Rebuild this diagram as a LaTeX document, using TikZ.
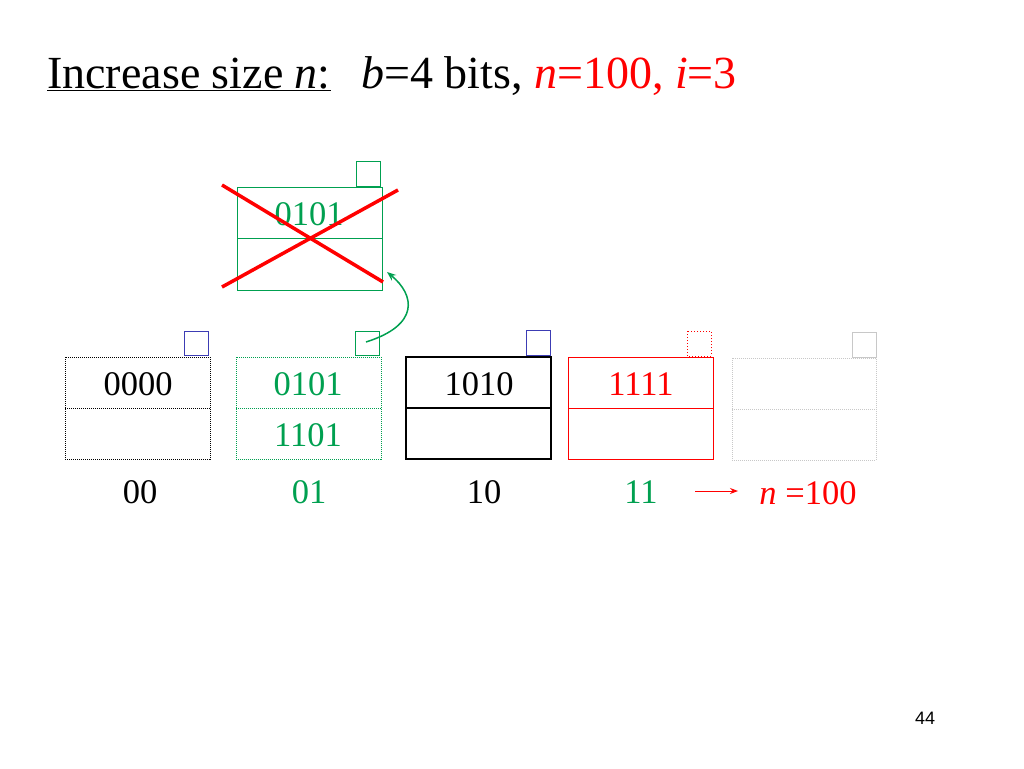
\documentclass[tikz,border=0pt]{standalone}
\usepackage{fontspec}
\setmainfont{Liberation Serif}
\newfontfamily\sansf{Liberation Sans}
\usetikzlibrary{arrows.meta}
\begin{document}
\begin{tikzpicture}[x=1pt,y=-1pt,
  bk/.style={line width=1pt},
  lbl/.style={font=\fontsize{34.5}{38}\selectfont,inner sep=0pt},
  sq/.style={line width=1pt}]
\definecolor{gr}{RGB}{0,160,80}
\definecolor{bl}{RGB}{60,60,180}
\definecolor{lg}{RGB}{200,200,200}
\useasboundingbox (0,0) rectangle (1024,768);
\node[anchor=base west,inner sep=0pt,font=\fontsize{46}{50}\selectfont] (title) at (47,88)
 {\underline{Increase size \textit{n}:}\ \ \,\textit{b}=4 bits, \textcolor{red}{\textit{n}=100, \textit{i}=3}};
% top bucket
\draw[gr,bk] (237,187) rectangle (382,290) (237,238)--(382,238);
\draw[gr,sq] (356,161) rectangle (380,186);
\node[lbl,gr] (t0) at (309,214) {0101};
\draw[red,line width=3.5pt] (222,185)--(383,282) (222,287)--(398,190);
% buckets
\draw[densely dotted,bk] (65,357) rectangle (210,459) (65,408)--(210,408);
\draw[bl,sq] (184,331) rectangle (208,355);
\node[lbl] (b0) at (138,384) {0000};
\draw[gr,densely dotted,bk] (236,357) rectangle (381,459) (236,408)--(381,408);
\draw[gr,sq] (355,331) rectangle (379,355);
\node[lbl,gr] (b1a) at (308,384) {0101};
\node[lbl,gr] (b1b) at (308,435) {1101};
\draw[line width=2pt] (406,357) rectangle (551,459) (406,408)--(551,408);
\draw[bl,sq] (526,330) rectangle (550,355);
\node[lbl] (b2) at (479,384) {1010};
\draw[red,bk] (568,357) rectangle (713,459) (568,408)--(713,408);
\draw[draw=red,dotted,sq] (687,331) rectangle (711,356);
\node[lbl,red] (b3) at (641,384) {1111};
\draw[lg,densely dotted,bk] (732,358) rectangle (876,460) (732,409)--(876,409);
\draw[lg,sq] (852,332) rectangle (876,357);
\coordinate (as) at (366,342);
\coordinate (ae) at (387,272);
\draw[gr,line width=1.5pt,-{Stealth[length=9pt,width=7pt]}] (as) .. controls (420,325) and (415,295) .. (ae);
\node[lbl] (l0) at (140,492) {00};
\node[lbl,gr] (l1) at (309,492) {01};
\node[lbl] (l2) at (484,492) {10};
\node[lbl,gr] (l3) at (641,492) {11};
\node[lbl,red] (nn) at (808,493) {\textit{n} =100};
\coordinate (ar1) at (695,491);
\coordinate (ar2) at (738,491);
\draw[red,line width=1pt,-{Stealth[length=8pt,width=6pt]}] (ar1)--(ar2);
\node[font=\sansf\fontsize{18}{20}\selectfont] (pg) at (925,718) {44};
\end{tikzpicture}
\end{document}
